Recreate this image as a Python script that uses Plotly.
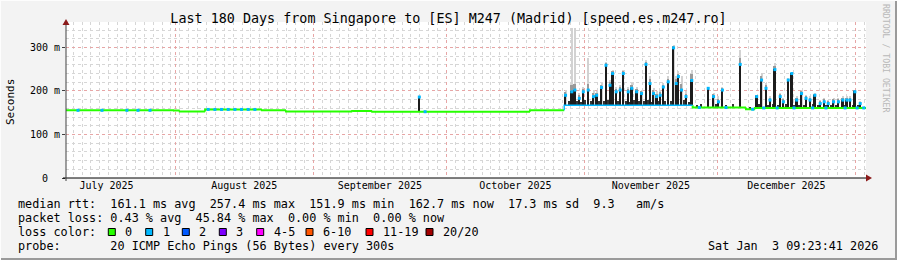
import plotly.graph_objects as go
import pandas as pd
import numpy as np

START = pd.Timestamp("2025-07-07 09:23:41")
END = pd.Timestamp("2026-01-03 09:23:41")

# median rtt (ms), step-wise, keyed by days since START; loss class index of each step
med_day = [0.0, 24.3, 25.6, 31.3, 44.1, 49.5, 64.4, 68.9, 104.4, 112.1, 141.0, 153.0, 155.0]
med_ms = [155.5, 155.0, 153.0, 157.5, 155.5, 152.8, 154.0, 152.3, 155.8, 167.0, 162.0, 158.0, 161.0]
med_loss = [0, 0, 0, 0, 0, 0, 0, 0, 0, 1, 0, 0, 0]

# main spikes: day, top of dark smoke (ms), top of light smoke (ms)
spike_day = [79.5, 112.4, 113.8, 114.5, 115.5, 116.4, 117.5, 118.7, 119.4, 120.5, 121.5,
             122.4, 123.0, 123.8, 124.7, 125.4, 126.5, 127.3, 128.4, 129.5, 130.5,
             131.4, 132.2, 132.9, 133.7, 134.4, 135.5, 136.7, 137.3, 137.8, 138.5,
             139.5, 140.8, 144.5, 145.7, 146.8, 147.7, 151.7, 155.4, 156.5, 157.5,
             158.4, 159.5, 160.7, 161.4, 162.5, 163.3, 164.4, 165.5, 166.5, 167.4,
             168.5, 169.7, 170.6, 171.5, 172.7, 173.8, 174.8, 175.7, 176.4, 177.5, 178.7]
spike_dark_ms = [187, 191, 199, 203, 184, 199, 203, 188, 191, 209, 260,
                 214, 241, 199, 203, 241, 199, 207, 199, 195, 262,
                 218, 195, 188, 191, 210, 222, 300, 218, 234, 203,
                 188, 225, 207, 188, 176, 203, 262, 188, 226, 207,
                 180, 250, 188, 176, 226, 241, 180, 195, 184, 180,
                 191, 172, 176, 172, 176, 176, 180, 180, 180, 199, 172]
spike_light_ms = [189, 203, 345, 345, 195, 210, 276, 203, 199, 218, 266,
                  226, 249, 210, 214, 249, 210, 218, 210, 203, 272,
                  234, 207, 199, 203, 218, 234, 306, 234, 245, 234,
                  199, 249, 210, 195, 188, 210, 295, 191, 241, 218,
                  188, 264, 195, 184, 230, 241, 188, 203, 191, 188,
                  195, 180, 184, 180, 184, 184, 188, 188, 188, 203, 176]

# smaller smoke bursts between the main spikes: day, top of dark smoke (ms)
minor_day = [113.1, 115.0, 116.0, 116.9, 118.1, 119.9, 121.0, 122.0, 124.3, 126.0,
             126.9, 127.8, 128.9, 130.0, 131.0, 131.8, 133.3, 134.9, 136.1, 139.0,
             140.2, 142.0, 143.0, 146.2, 148.6, 150.0, 154.0, 156.0, 158.0, 159.0,
             160.2, 162.0, 163.9, 165.0, 166.0, 168.0, 169.2, 171.0, 172.2, 173.3,
             175.2, 177.0, 178.2]
minor_ms = [176, 178, 175, 179, 176, 178, 177, 179, 176, 178,
            175, 179, 177, 176, 179, 175, 178, 178, 176, 179,
            175, 168, 169, 171, 168, 169, 164, 169, 168, 169,
            168, 169, 168, 168, 168, 169, 168, 168, 168, 168,
            168, 168, 168]

# samples with 1/20 loss (blue), day since START
loss1_day = [2.7, 8.1, 13.7, 16.2, 18.9, 32.0, 33.5, 35.0, 36.5, 38.0, 39.5, 41.0, 42.5,
             80.8, 142.5, 148.5, 154.5, 157.0, 160.0, 163.8, 168.0, 171.0, 175.3, 178.0, 179.5]

loss_labels = ["0", "1", "2", "3", "4-5", "6-10", "11-19", "20/20"]
loss_colors = ["#26ff00", "#00b8ff", "#0059ff", "#7e00ff", "#ff00ff", "#ff5500", "#ff0000", "#a10000"]

Y_MAX = 358.4
TITLE = "Last 180 Days from Singapore to [ES] M247 (Madrid) [speed.es.m247.ro]"
rows = [
    "median rtt:  161.1 ms avg  257.4 ms max  151.9 ms min  162.7 ms now  17.3 ms sd  9.3   am/s",
    "packet loss: 0.43 % avg  45.84 % max  0.00 % min  0.00 % now",
    "loss color:",
    "probe:       20 ICMP Echo Pings (56 Bytes) every 300s",
]
STAMP = "Sat Jan  3 09:23:41 2026"

# ---------------------------------------------------------------
W, H = 897, 260
L, R, T, B = 66, 31, 22, 82
PW, PH = W - L - R, H - T - B
MONO = "DejaVu Sans Mono"
NB = "\u00a0"


def fx(px):
    return (px - L) / PW


def fy(py):
    return (H - B - py) / PH


def to_time(days):
    return START + pd.to_timedelta(np.asarray(days, dtype=float), unit="D")


px_ms = (END - START).total_seconds() * 1000 / PW

med_day_a = np.array(med_day)
med_ms_a = np.array(med_ms)


def base_at(d):
    idx = np.searchsorted(med_day_a, d, side="right") - 1
    return med_ms_a[idx]


sd = np.array(spike_day)
sbase = np.array([base_at(d) for d in sd])
sdark = np.array(spike_dark_ms, dtype=float)
slight = np.array(spike_light_ms, dtype=float)
smid = sdark + np.minimum((slight - sdark) * 0.55, 14)

md = np.array(minor_day)
mbase = np.array([base_at(d) for d in md])
mtop = np.array(minor_ms, dtype=float)

fig = go.Figure()

# smoke: light halo, mid grey, dark core
fig.add_trace(go.Bar(x=to_time(sd), y=slight - sbase, base=sbase, width=1.1 * px_ms,
                     marker=dict(color="#d2d2d2", line=dict(width=0)), hoverinfo="skip"))
fig.add_trace(go.Bar(x=to_time(sd), y=smid - sbase, base=sbase, width=1.8 * px_ms,
                     marker=dict(color="#9a9a9a", line=dict(width=0)), hoverinfo="skip"))
fig.add_trace(go.Bar(x=to_time(md), y=mtop - mbase, base=mbase, width=1.2 * px_ms,
                     marker=dict(color="#333333", line=dict(width=0)), hoverinfo="skip"))
fig.add_trace(go.Bar(x=to_time(sd), y=sdark - sbase, base=sbase, width=1.8 * px_ms,
                     marker=dict(color="#1c1c1c", line=dict(width=0)), hoverinfo="skip"))

# median line coloured by loss class
ends = list(med_day[1:]) + [180.0]
for ci, col in enumerate(loss_colors):
    xs, ys = [], []
    for i in range(len(med_day)):
        if med_loss[i] != ci:
            continue
        if i > 0:
            xs.append(med_day[i]); ys.append(med_ms[i - 1])
        xs += [med_day[i], ends[i]]
        ys += [med_ms[i], med_ms[i]]
        xs.append(None); ys.append(None)
    if not xs:
        continue
    xt = [None if v is None else START + pd.Timedelta(days=v) for v in xs]
    fig.add_trace(go.Scatter(x=xt, y=ys, mode="lines", connectgaps=False,
                             line=dict(color=col, width=2 if ci == 0 else 1.4), hoverinfo="skip"))

# medians at the spikes
fig.add_trace(go.Scatter(x=to_time(sd), y=sdark - 1, mode="markers",
                         marker=dict(color=loss_colors[1], size=3, symbol="square", line=dict(width=0)),
                         hoverinfo="skip"))
# blue samples on the median
l1 = np.array(loss1_day)
fig.add_trace(go.Scatter(x=to_time(l1), y=[base_at(d) for d in l1], mode="markers",
                         marker=dict(color=loss_colors[1], size=3, symbol="square", line=dict(width=0)),
                         hoverinfo="skip"))

shapes = []
# axes lines + arrows
shapes.append(dict(type="line", xref="paper", yref="paper", x0=fx(63), x1=fx(869), y0=0, y1=0,
                   line=dict(color="#000000", width=1)))
shapes.append(dict(type="line", xref="paper", yref="paper", x0=0, x1=0, y0=fy(181), y1=fy(22),
                   line=dict(color="#404040", width=1)))
shapes.append(dict(type="path", xref="paper", yref="paper",
                   path=f"M {fx(866)} {fy(174.5)} L {fx(872)} {fy(178)} L {fx(866)} {fy(181.5)} Z",
                   fillcolor="#8b1a1a", line=dict(width=0)))
shapes.append(dict(type="path", xref="paper", yref="paper",
                   path=f"M {fx(62.5)} {fy(25)} L {fx(66)} {fy(19)} L {fx(69.5)} {fy(25)} Z",
                   fillcolor="#8b1a1a", line=dict(width=0)))
# frame
shapes.append(dict(type="line", xref="paper", yref="paper", x0=fx(0), x1=fx(W), y0=fy(H - 1), y1=fy(H - 1),
                   line=dict(color="#9a9a9a", width=2)))
shapes.append(dict(type="line", xref="paper", yref="paper", x0=fx(W - 1), x1=fx(W - 1), y0=fy(0), y1=fy(H),
                   line=dict(color="#9a9a9a", width=2)))
shapes.append(dict(type="line", xref="paper", yref="paper", x0=fx(0), x1=fx(W), y0=fy(0.5), y1=fy(0.5),
                   line=dict(color="#fdfdfd", width=1)))
shapes.append(dict(type="line", xref="paper", yref="paper", x0=fx(0.5), x1=fx(0.5), y0=fy(0), y1=fy(H),
                   line=dict(color="#fdfdfd", width=1)))

annotations = []
row_y = [204.3, 218.3, 232.3, 246.3]
for txt, yy in zip(rows, row_y):
    annotations.append(dict(text=txt.replace(" ", NB), xref="paper", yref="paper",
                            x=fx(16), y=fy(yy), xanchor="left", yanchor="middle", showarrow=False,
                            font=dict(family=MONO, size=11.8, color="#000000")))
annotations.append(dict(text=STAMP.replace(" ", NB), xref="paper", yref="paper",
                        x=fx(880), y=fy(246.3), xanchor="right", yanchor="middle", showarrow=False,
                        font=dict(family=MONO, size=11.8, color="#000000")))
box_x = [108.3, 145.7, 182.3, 219.3, 256.7, 306.0, 366.0, 426.0]
for bx, lab, col in zip(box_x, loss_labels, loss_colors):
    shapes.append(dict(type="rect", xref="paper", yref="paper", x0=fx(bx), x1=fx(bx + 7),
                       y0=fy(228.5), y1=fy(235.5), fillcolor=col, line=dict(color="#000000", width=1)))
    annotations.append(dict(text=lab, xref="paper", yref="paper", x=fx(bx + 15), y=fy(232.3),
                            xanchor="left", yanchor="middle", showarrow=False,
                            font=dict(family=MONO, size=11.8, color="#000000")))
annotations.append(dict(text="Seconds", xref="paper", yref="paper", x=fx(10), y=fy(102),
                        xanchor="center", yanchor="middle", textangle=-90, showarrow=False,
                        font=dict(family=MONO, size=11, color="#000000")))
annotations.append(dict(text="RRDTOOL / TOBI OETIKER", xref="paper", yref="paper", x=fx(886), y=fy(59),
                        xanchor="center", yanchor="middle", textangle=90, showarrow=False,
                        font=dict(family=MONO, size=8.2, color="#b8b8b8")))

fig.update_layout(
    width=W, height=H,
    margin=dict(l=L, r=R, t=T, b=B, pad=0),
    paper_bgcolor="#f3f3f3", plot_bgcolor="#ffffff",
    showlegend=False, barmode="overlay", bargap=0,
    title=dict(text=TITLE, x=0.5, xanchor="center", y=1 - 18 / H, yanchor="middle",
               font=dict(family=MONO, size=13.4, color="#000000")),
    shapes=shapes, annotations=annotations,
    xaxis=dict(type="date", range=[START, END], showline=False, zeroline=False,
               dtick="M1", tick0="2025-07-01", ticklabelmode="period", tickformat="%B %Y",
               ticks="", showgrid=True, gridcolor="#e7a6a6", griddash="dot", gridwidth=1,
               tickfont=dict(family=MONO, size=10, color="#000000"),
               minor=dict(dtick=2 * 86400000, tick0="2025-07-09", showgrid=True,
                          gridcolor="#d6d6d6", griddash="dot", gridwidth=1),
               fixedrange=True),
    yaxis=dict(range=[0, Y_MAX], tickvals=[0, 100, 200, 300],
               ticktext=["0" + NB + NB, "100 m", "200 m", "300 m"], showline=False, zeroline=False,
               ticks="outside", ticklen=3, tickcolor="#404040",
               showgrid=True, gridcolor="#e7a6a6", griddash="dot", gridwidth=1,
               tickfont=dict(family=MONO, size=10, color="#000000"),
               minor=dict(dtick=20, showgrid=True, gridcolor="#d6d6d6", griddash="dot", gridwidth=1),
               fixedrange=True),
)

fig.write_html("out.html")
